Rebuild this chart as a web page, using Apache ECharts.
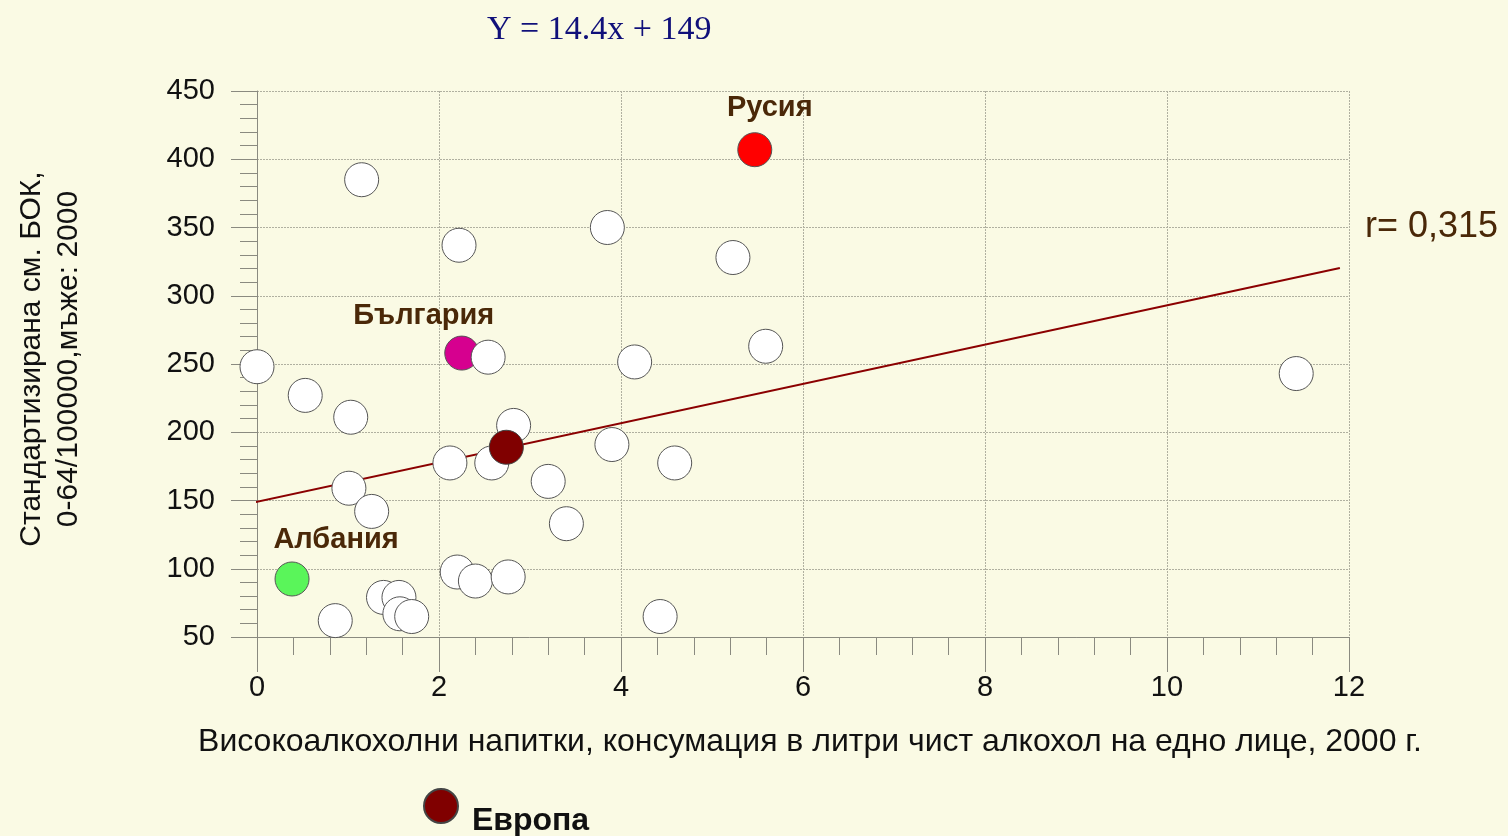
<!DOCTYPE html>
<html>
<head>
<meta charset="utf-8">
<script src="https://cdn.jsdelivr.net/npm/echarts@6/dist/echarts.min.js"></script>
<style>
html,body{margin:0;padding:0;background:#fafae4;}
#c{width:1508px;height:836px;}
</style>
</head>
<body>
<div id="c"></div>
<script>
// Data
const otherX = [0, 0.53, 1.03, 1.15, 1.01, 1.26, 0.86, 1.39, 1.56, 1.57, 1.70, 2.12, 2.58, 2.20, 2.40, 2.76, 3.20, 3.40, 2.54, 4.15, 2.82, 3.90, 4.59, 2.22, 3.85, 5.23, 5.59, 4.43, 11.42];
const otherY = [248, 227, 211, 385, 159, 142, 62, 79, 79, 67, 65, 177.5, 177.5, 97.6, 91, 94, 164, 133, 255, 251.5, 205, 191, 177.5, 337, 350, 328, 263, 65, 243];
const russia = [5.47, 407];
const bulgaria = [2.25, 258];
const albania = [0.385, 92.5];
const europe = [2.74, 189];
const trendX = [-0.1, 11.9];
const trendY = [147.6, 320.4];
const xTicks = [0, 2, 4, 6, 8, 10, 12];
const yTicks = [50, 100, 150, 200, 250, 300, 350, 400, 450];

const otherPts = otherX.map((x, i) => [x, otherY[i]]);
const trendPts = trendX.map((x, i) => [x, trendY[i]]);

const font = '"Liberation Sans", Arial, Helvetica, sans-serif';
const brown = '#4a2808';
const chart = echarts.init(document.getElementById('c'));
const labelStyle = (dx, dy) => ({
  show: true, position: 'inside', offset: [dx, dy],
  formatter: p => p.seriesName, color: brown, fontSize: 29, fontWeight: 'bold', fontFamily: font
});
chart.setOption({
  backgroundColor: '#fafae4',
  animation: false,
  grid: {left: 257, right: 159, top: 91, bottom: 199, containLabel: false, outerBoundsMode: 'none'},
  xAxis: {
    type: 'value', min: xTicks[0], max: xTicks[xTicks.length - 1], interval: 2,
    axisLine: {onZero: false, lineStyle: {color: '#8a8a80', width: 1}},
    axisTick: {length: 35, lineStyle: {color: '#8a8a80'}},
    minorTick: {show: true, splitNumber: 5, length: 18, lineStyle: {color: '#8a8a80'}},
    axisLabel: {margin: 36, fontSize: 29, color: '#111', fontFamily: font},
    splitLine: {show: true, lineStyle: {color: '#b0b0a0', type: [2, 1], width: 1}},
    name: 'Високоалкохолни напитки, консумация в литри чист алкохол на едно лице, 2000 г.',
    nameLocation: 'middle', nameGap: 89,
    nameTextStyle: {fontSize: 32, color: '#111', fontFamily: font, padding: [0, 0, 0, 14]}
  },
  yAxis: {
    type: 'value', min: yTicks[0], max: yTicks[yTicks.length - 1], interval: 50,
    axisLine: {show: true, lineStyle: {color: '#8a8a80', width: 1}},
    axisTick: {show: true, length: 26, lineStyle: {color: '#8a8a80'}},
    minorTick: {show: true, splitNumber: 5, length: 17, lineStyle: {color: '#8a8a80'}},
    axisLabel: {margin: 42, fontSize: 29, color: '#111', fontFamily: font},
    splitLine: {show: true, lineStyle: {color: '#b0b0a0', type: [2, 1], width: 1}},
    name: 'Стандартизирана см. БОК,\n0-64/100000,мъже: 2000',
    nameLocation: 'middle', nameGap: 170, nameRotate: 90,
    nameTextStyle: {fontSize: 30, lineHeight: 37, color: '#111', fontFamily: font, align: 'center', padding: [0, 0, 0, 10]}
  },
  legend: {
    left: 418, top: 770, itemWidth: 34, itemHeight: 34, itemGap: 33,
    data: [{name: 'Европа', icon: 'circle'}],
    formatter: '\n {name}',
    textStyle: {fontSize: 32, lineHeight: 30, fontWeight: 'bold', color: '#111', fontFamily: font},
    selectedMode: false
  },
  graphic: [
    {type: 'text', left: 487, top: 13, style: {text: 'Y = 14.4x + 149', font: '34px "Liberation Serif", "Times New Roman", serif', fill: '#10107a'}},
    {type: 'text', left: 1365, top: 209, style: {text: 'r= 0,315', font: '36px "Liberation Sans", Arial, sans-serif', fill: brown}}
  ],
  series: [
    {
      name: 'trend', type: 'line', data: trendPts, symbol: 'none', clip: false,
      lineStyle: {color: '#8b0000', width: 2}, z: 1, silent: true
    },
    {
      name: 'others', type: 'scatter', data: otherPts, symbolSize: 34,
      itemStyle: {color: '#ffffff', borderColor: '#555', borderWidth: 1, opacity: 1}, z: 2
    },
    {
      name: 'Европа', type: 'scatter', data: [europe], symbolSize: 34,
      itemStyle: {color: '#800000', borderColor: '#444', borderWidth: 1, opacity: 1}, z: 3
    },
    {
      name: 'Русия', type: 'scatter', data: [russia], symbolSize: 34,
      itemStyle: {color: '#ff0000', borderColor: '#555', borderWidth: 1, opacity: 1},
      label: labelStyle(15, -42), z: 3
    },
    {
      name: 'България', type: 'scatter', data: [bulgaria], symbolSize: 34,
      itemStyle: {color: '#d6008f', borderColor: '#555', borderWidth: 1, opacity: 1},
      label: labelStyle(-38, -37), z: 1.5
    },
    {
      name: 'Албания', type: 'scatter', data: [albania], symbolSize: 34,
      itemStyle: {color: '#5af55a', borderColor: '#555', borderWidth: 1, opacity: 1},
      label: labelStyle(44, -39), z: 3
    }
  ]
});
</script>
</body>
</html>
